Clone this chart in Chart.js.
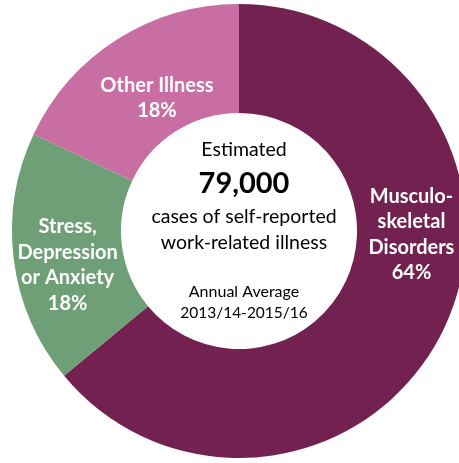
<!DOCTYPE html>
<html>
<head>
<meta charset="utf-8">
<script src="https://cdn.jsdelivr.net/npm/chart.js@4"></script>
<style>
  html, body { margin: 0; padding: 0; background: #fff; overflow: hidden; }
  #wrap { position: absolute; left: 0; top: 0; width: 478px; height: 462px; }
</style>
</head>
<body>
<div id="wrap"><canvas id="illnessChart" width="478" height="462"></canvas></div>
<script>
// data – clockwise from 12 o'clock
const categories = [["Musculo-", "skeletal", "Disorders"], ["Stress,", "Depression", "or Anxiety"], ["Other Illness"]];
const shares = [64, 18, 18];
const sliceColors = ["#722150", "#6e9f76", "#c96ea3"];

// center text
const centerLines = ["Estimated", "79,000", "cases of self-reported", "work-related illness", "Annual Average", "2013/14-2015/16"];

// label placement: angle shift (deg) from slice middle, position across the ring (0 = inner, 1 = outer)
const labelShift = [-24, -4, 0.7];
const labelDepth = [0.5, 0.52, 0.35];

const labelFont = "bold 20px Lato";
const labelLineH = 25.5;

const sliceLabels = {
  id: "sliceLabels",
  afterDatasetsDraw(chart) {
    const ctx = chart.ctx;
    const arcs = chart.getDatasetMeta(0).data;
    ctx.save();
    ctx.fillStyle = "#fff";
    ctx.font = labelFont;
    ctx.textAlign = "center";
    ctx.textBaseline = "middle";
    arcs.forEach((arc, i) => {
      const p = arc.getProps(["x", "y", "startAngle", "endAngle", "innerRadius", "outerRadius"], true);
      const mid = (p.startAngle + p.endAngle) / 2 + labelShift[i] * Math.PI / 180;
      const r = p.innerRadius + (p.outerRadius - p.innerRadius) * labelDepth[i];
      const cx = p.x + r * Math.cos(mid);
      const cy = p.y + r * Math.sin(mid);
      const lines = categories[i].concat([shares[i] + "%"]);
      const top = cy - (lines.length - 1) * labelLineH / 2;
      lines.forEach((t, j) => ctx.fillText(t, cx, top + j * labelLineH));
    });
    ctx.restore();
  }
};

const centerText = {
  id: "centerText",
  afterDatasetsDraw(chart) {
    const ctx = chart.ctx;
    const arc = chart.getDatasetMeta(0).data[0];
    const x = arc.x + 5, y = arc.y;
    const styles = [
      ["19.5px Lato", -75],
      ["bold 29px Lato", -38],
      ["19.5px Lato", -8],
      ["19.5px Lato", 18],
      ["16px Lato", 66],
      ["15.5px Lato", 87]
    ];
    ctx.save();
    ctx.fillStyle = "#000";
    ctx.textAlign = "center";
    ctx.textBaseline = "alphabetic";
    centerLines.forEach((t, i) => {
      ctx.font = styles[i][0];
      ctx.fillText(t, x, y + styles[i][1]);
    });
    ctx.restore();
  }
};

new Chart(document.getElementById("illnessChart"), {
  type: "doughnut",
  data: {
    labels: categories.map(c => c.join(" ")),
    datasets: [{
      data: shares,
      backgroundColor: sliceColors,
      borderWidth: 0
    }]
  },
  options: {
    responsive: false,
    animation: false,
    cutout: "52%",
    layout: { padding: 4 },
    plugins: { legend: { display: false }, tooltip: { enabled: false } }
  },
  plugins: [sliceLabels, centerText]
});
</script>
</body>
</html>
